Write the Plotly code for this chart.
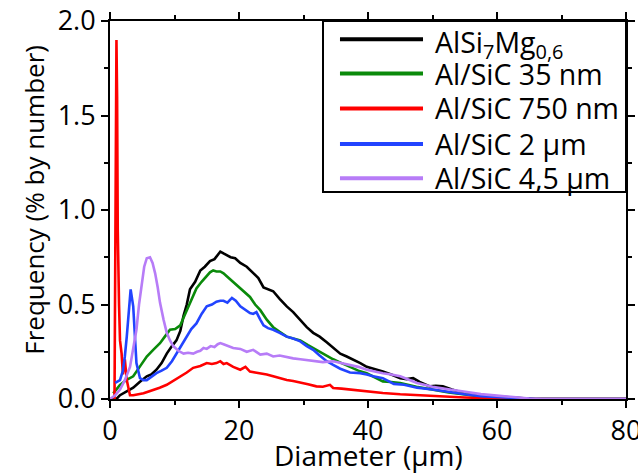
import plotly.graph_objects as go

# ---------------- data ----------------
names = ["AlSi<sub>7</sub>Mg<sub>0,6</sub>", "Al/SiC 35 nm", "Al/SiC 750 nm", "Al/SiC 2 µm", "Al/SiC 4,5 µm"]
colors = ["#000000", "#0a8a0a", "#ff0000", "#2244ff", "#b77cf7"]

black_x = [0, 1.0, 1.55, 2.5, 3.6, 4.6, 5.7, 6.4, 7.2, 8.0, 8.8, 9.6, 10.3, 10.9, 11.4, 11.9, 12.4, 13.2, 14.0, 14.7,
           15.5, 16.2, 16.7, 17.1, 17.6, 18.1, 18.7, 19.4, 20.2, 21.2, 22.2, 23.0, 23.8, 24.5, 25.3, 26.3, 27.4, 28.4,
           29.5, 30.5, 31.5, 32.5, 33.6, 34.6, 35.7, 36.7, 37.7, 38.8, 39.8, 41.0, 42.3, 43.6, 45.0, 46.0, 47.0, 48.0,
           49.6, 50.5, 51.6, 53.0, 54.7, 57.0, 60.0, 62.0, 64.0, 66.0, 80.0]
black_y = [0, 0.0, 0.02, 0.04, 0.06, 0.09, 0.12, 0.13, 0.155, 0.19, 0.24, 0.28, 0.31, 0.36, 0.44, 0.50, 0.58, 0.62, 0.68, 0.70,
           0.73, 0.74, 0.765, 0.78, 0.77, 0.76, 0.75, 0.745, 0.72, 0.70, 0.665, 0.64, 0.59, 0.58, 0.57, 0.53, 0.49, 0.46,
           0.42, 0.38, 0.35, 0.33, 0.30, 0.27, 0.24, 0.225, 0.21, 0.19, 0.17, 0.16, 0.146, 0.13, 0.11, 0.105, 0.11, 0.09,
           0.067, 0.07, 0.067, 0.05, 0.033, 0.02, 0.014, 0.008, 0.003, 0.0, 0.0]

green_x = [0.5, 1.0, 1.55, 2.5, 3.6, 4.6, 5.7, 6.7, 7.75, 8.5, 9.3, 10.1, 10.9, 11.4, 11.9, 12.6, 13.4, 14.2, 15.0, 15.5,
           16.0, 16.5, 17.1, 17.6, 18.1, 19.1, 20.2, 21.0, 21.7, 22.5, 23.3, 24.3, 25.3, 26.3, 27.4, 28.4, 29.5, 30.7,
           32.0, 33.3, 34.6, 35.9, 37.2, 38.5, 39.8, 41.0, 42.3, 43.6, 45.0, 47.5, 50.0, 52.5, 55.3, 57.5, 60.0, 62.0, 80.0]
green_y = [0.03, 0.05, 0.075, 0.10, 0.12, 0.17, 0.225, 0.26, 0.295, 0.33, 0.366, 0.37, 0.39, 0.43, 0.47, 0.53, 0.585, 0.62, 0.65, 0.67,
           0.68, 0.675, 0.675, 0.665, 0.65, 0.62, 0.585, 0.56, 0.54, 0.50, 0.47, 0.42, 0.38, 0.355, 0.33, 0.32, 0.31, 0.285,
           0.26, 0.235, 0.21, 0.19, 0.17, 0.15, 0.136, 0.115, 0.093, 0.09, 0.085, 0.065, 0.05, 0.035, 0.023, 0.012, 0.005, 0.0, 0.0]

red_x = [0.7, 0.85, 1.0, 1.1, 1.2, 1.4, 1.55, 1.8, 2.0, 2.3, 2.6, 3.1, 3.6, 4.4, 5.2, 6.0, 6.7, 7.7, 8.8, 9.8, 10.9, 11.9,
         12.9, 14.0, 15.0, 15.8, 16.5, 17.1, 17.6, 18.1, 19.1, 20.2, 21.0, 21.7, 22.5, 23.3, 24.3, 25.3, 26.3, 27.4,
         28.4, 29.5, 30.7, 32.0, 33.0, 34.1, 34.6, 35.9, 37.2, 38.5, 39.8, 42.3, 45.0, 47.5, 50.0, 55.0, 60.0, 62.0, 80.0]
red_y = [0.0, 1.2, 1.9, 1.6, 0.9, 0.5, 0.31, 0.24, 0.13, 0.21, 0.10, 0.02, 0.02, 0.025, 0.03, 0.04, 0.05, 0.06, 0.075, 0.095, 0.12, 0.14,
         0.165, 0.175, 0.19, 0.185, 0.19, 0.20, 0.185, 0.19, 0.17, 0.155, 0.17, 0.145, 0.14, 0.136, 0.13, 0.12, 0.11, 0.10,
         0.095, 0.085, 0.078, 0.067, 0.065, 0.075, 0.058, 0.055, 0.05, 0.045, 0.04, 0.032, 0.025, 0.02, 0.015, 0.008, 0.003, 0.0, 0.0]

blue_x = [0.8, 1.55, 2.0, 2.3, 2.6, 2.85, 3.2, 3.6, 4.1, 4.65, 5.2, 5.7, 6.5, 7.2, 8.0, 8.8, 9.6, 10.3, 11.1, 11.9, 12.6,
          13.4, 14.2, 15.0, 15.8, 16.5, 17.1, 17.6, 18.2, 18.9, 19.5, 20.2, 21.0, 21.7, 22.2, 22.7, 23.3, 23.8, 24.5,
          25.3, 26.3, 27.4, 28.4, 29.5, 30.5, 31.5, 32.5, 33.6, 34.6, 35.7, 37.2, 38.8, 39.8, 40.8, 42.3, 44.0, 45.6,
          47.6, 50.0, 52.7, 55.0, 57.5, 60.0, 63.0, 66.0, 80.0]
blue_y = [0.085, 0.10, 0.15, 0.225, 0.33, 0.45, 0.58, 0.49, 0.19, 0.11, 0.10, 0.10, 0.12, 0.137, 0.15, 0.165, 0.20, 0.24, 0.29, 0.33, 0.37,
          0.40, 0.45, 0.49, 0.50, 0.515, 0.52, 0.52, 0.51, 0.535, 0.52, 0.49, 0.47, 0.455, 0.45, 0.46, 0.42, 0.39, 0.375,
          0.366, 0.35, 0.33, 0.32, 0.305, 0.28, 0.26, 0.23, 0.20, 0.18, 0.16, 0.14, 0.137, 0.13, 0.12, 0.11, 0.08, 0.075,
          0.06, 0.05, 0.035, 0.025, 0.015, 0.01, 0.005, 0.0, 0.0]

purple_x = [0.0, 0.8, 1.55, 2.3, 3.1, 3.6, 4.1, 4.5, 4.9, 5.3, 5.7, 6.2, 6.6, 7.0, 7.4, 7.75, 8.3, 8.8, 9.3, 9.8, 10.6,
            11.4, 12.1, 12.9, 13.5, 14.0, 14.5, 15.0, 15.6, 16.2, 16.7, 17.1, 17.6, 18.3, 19.1, 20.2, 21.2, 22.2, 23.3,
            24.3, 25.3, 26.3, 27.4, 28.4, 29.5, 30.5, 31.5, 33.0, 34.6, 35.9, 37.2, 38.5, 39.8, 41.0, 42.3, 43.6, 45.0,
            47.6, 50.0, 52.7, 55.0, 57.5, 60.0, 63.0, 65.0, 67.0, 80.0]
purple_y = [0.0, 0.02, 0.05, 0.10, 0.17, 0.26, 0.366, 0.50, 0.61, 0.70, 0.745, 0.75, 0.72, 0.665, 0.59, 0.51, 0.42, 0.35, 0.31, 0.28, 0.255,
            0.24, 0.245, 0.24, 0.25, 0.255, 0.27, 0.265, 0.28, 0.275, 0.29, 0.296, 0.29, 0.28, 0.27, 0.265, 0.25, 0.26, 0.235,
            0.24, 0.225, 0.23, 0.22, 0.215, 0.21, 0.205, 0.20, 0.195, 0.20, 0.19, 0.18, 0.17, 0.155, 0.145, 0.136, 0.13, 0.12,
            0.085, 0.065, 0.05, 0.038, 0.026, 0.018, 0.008, 0.003, 0.0, 0.0]

series_x = [black_x, green_x, red_x, blue_x, purple_x]
series_y = [black_y, green_y, red_y, blue_y, purple_y]

x_ticks = [0, 20, 40, 60, 80]
y_ticks = [0.0, 0.5, 1.0, 1.5, 2.0]
y_tick_labels = ["0.0", "0.5", "1.0", "1.5", "2.0"]
x_title = "Diameter (µm)"
y_title = "Frequency (% by number)"

FONT = "Open Sans"
FS_TICK = 27
FS_LEG = 28.5
FS_XT = 28
FS_YT = 26

fig = go.Figure()
for xs, ys, nm, col in zip(series_x, series_y, names, colors):
    fig.add_trace(go.Scatter(x=xs, y=ys, mode="lines", name=nm,
                             line=dict(color=col, width=2.6), showlegend=False))

axis_common = dict(showline=True, linecolor="black", linewidth=2, mirror="ticks",
                   ticks="outside", ticklen=7, tickwidth=2, tickcolor="black",
                   showgrid=False, zeroline=False, automargin=False, ticklabeloverflow="allow",
                   tickfont=dict(family=FONT, size=FS_TICK, color="black"))

fig.update_xaxes(range=[0, 80], tickvals=x_ticks,
                 minor=dict(dtick=10, ticklen=4, tickwidth=2, tickcolor="black", ticks="outside", showgrid=False),
                 **axis_common)
fig.update_yaxes(range=[0, 2], tickvals=y_ticks, ticktext=y_tick_labels,
                 minor=dict(dtick=0.25, ticklen=4, tickwidth=2, tickcolor="black", ticks="outside", showgrid=False),
                 **axis_common)

# custom legend (long line samples like the reference)
lx0, lx1 = 0.4128, 1.0
ly0, ly1 = 0.5475, 1.0
shapes = [dict(type="rect", xref="paper", yref="paper", x0=lx0, x1=lx1, y0=ly0, y1=ly1,
               line=dict(color="black", width=2), fillcolor="white", layer="above")]
annotations = []
ypos = [0.9517, 0.861, 0.7686, 0.6743, 0.5837]
for i, (nm, col) in enumerate(zip(names, colors)):
    shapes.append(dict(type="line", xref="paper", yref="paper", x0=0.4457, x1=0.6066, y0=ypos[i], y1=ypos[i],
                       line=dict(color=col, width=4), layer="above"))
    annotations.append(dict(xref="paper", yref="paper", x=0.626, y=ypos[i], text=nm, showarrow=False,
                            xanchor="left", yanchor="middle", yshift=(-5 if i == 0 else 0),
                            font=dict(family=FONT, size=FS_LEG, color="black")))

# axis titles
annotations.append(dict(xref="paper", yref="paper", x=0.5, y=-0.148, text=x_title, showarrow=False,
                        xanchor="center", yanchor="middle", font=dict(family=FONT, size=FS_XT, color="black")))
annotations.append(dict(xref="paper", yref="paper", x=-0.1463, y=0.526, text=y_title, showarrow=False,
                        textangle=-90, xanchor="center", yanchor="middle",
                        font=dict(family=FONT, size=FS_YT, color="black")))

fig.update_layout(width=638, height=473, margin=dict(l=110, r=12, t=21, b=74),
                  plot_bgcolor="white", paper_bgcolor="white",
                  shapes=shapes, annotations=annotations)

# remove the default 8px page margin so the figure fills the window exactly
fig.write_html("out.html", config={"displayModeBar": False},
               post_script="document.body.style.margin='0px';")
